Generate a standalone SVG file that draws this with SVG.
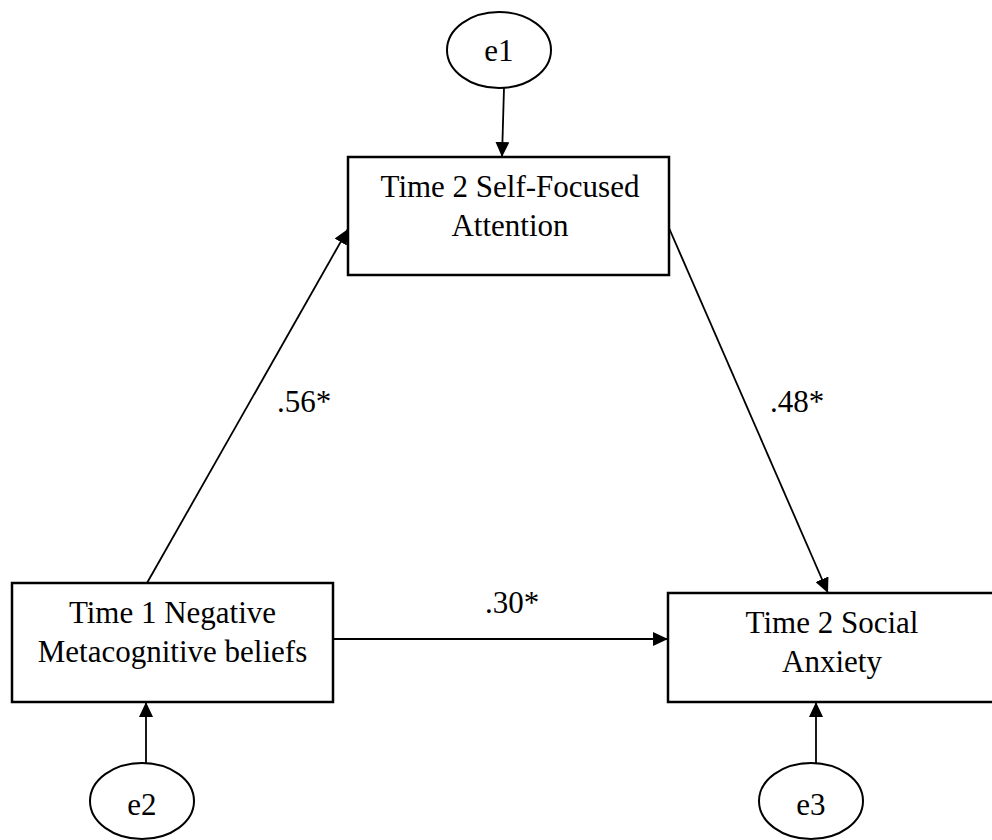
<svg xmlns="http://www.w3.org/2000/svg" width="992" height="840" viewBox="0 0 992 840">
<defs>
<marker id="ah" markerUnits="userSpaceOnUse" markerWidth="16" markerHeight="14" refX="15" refY="7" orient="auto">
<path d="M0,0 L15,7 L0,14 Z" fill="#000"/>
</marker>
</defs>
<style>
.box{fill:#fff;stroke:#000;stroke-width:2.5}
.ell{fill:#fff;stroke:#000;stroke-width:2}
.t{font-family:"Liberation Serif","Times New Roman",serif;font-size:31px;fill:#000;text-anchor:middle}
.lbl{font-family:"Liberation Serif","Times New Roman",serif;font-size:31px;fill:#000}
.c{stroke:#000;stroke-width:1.8;fill:none;marker-end:url(#ah)}
</style>
<rect width="992" height="840" fill="#fff"/>
<g id="connectors">
<line class="c" x1="504" y1="88" x2="502" y2="157"/>
<line class="c" x1="147" y1="583" x2="348" y2="229"/>
<line class="c" x1="669" y1="228" x2="828" y2="593"/>
<line class="c" x1="333" y1="639" x2="668" y2="639"/>
<line class="c" x1="146" y1="763" x2="146" y2="702"/>
<line class="c" x1="816" y1="763" x2="816" y2="702"/>
</g>
<g id="labels">
<text class="lbl" x="277" y="412">.56*</text>
<text class="lbl" x="770" y="412">.48*</text>
<text class="lbl" x="485" y="613">.30*</text>
</g>
<g id="e1">
<ellipse class="ell" cx="499" cy="50" rx="52" ry="38"/>
<text class="t" x="499" y="61">e1</text>
</g>
<g id="sfa">
<rect class="box" x="348" y="157" width="321" height="118"/>
<text class="t" x="510" y="197">Time 2 Self-Focused</text>
<text class="t" x="510" y="236">Attention</text>
</g>
<g id="nmb">
<rect class="box" x="12" y="583" width="321" height="119"/>
<text class="t" x="172.5" y="623">Time 1 Negative</text>
<text class="t" x="172.5" y="662">Metacognitive beliefs</text>
</g>
<g id="sa">
<rect class="box" x="668" y="593" width="340" height="109"/>
<text class="t" x="832" y="633">Time 2 Social</text>
<text class="t" x="832" y="672">Anxiety</text>
</g>
<g id="e2">
<ellipse class="ell" cx="142" cy="801" rx="52" ry="38"/>
<text class="t" x="142" y="815">e2</text>
</g>
<g id="e3">
<ellipse class="ell" cx="811" cy="801" rx="52" ry="38"/>
<text class="t" x="811" y="815">e3</text>
</g>
</svg>
